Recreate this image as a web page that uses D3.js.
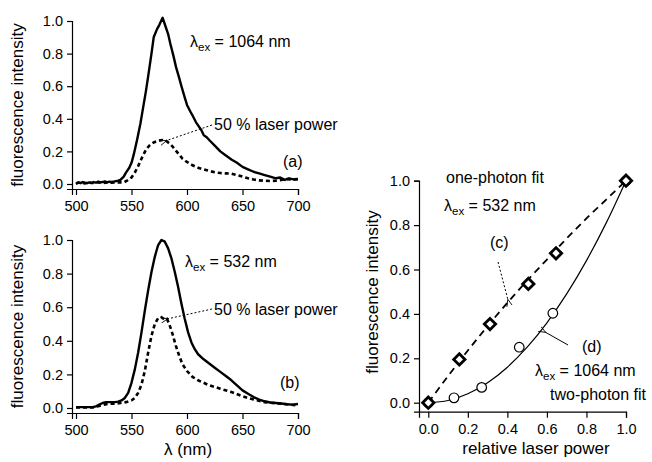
<!DOCTYPE html>
<html lang="en">
<head>
<meta charset="UTF-8" />
<title>fluorescence</title>
<script src="https://d3js.org/d3.v7.min.js"></script>
<style>
  body { margin: 0; background: #fff; }
  svg { display: block; font-family: "Liberation Sans", Arial, Helvetica, sans-serif; }
  .axis path, .axis line { stroke: #000; stroke-width: 1.2; }
  .axis text { font-size: 14.5px; fill: #000; font-family: "Liberation Sans", Arial, sans-serif; }
  .lbl { font-size: 17px; }
  .ann { font-size: 16px; }
</style>
</head>
<body>
<svg width="652" height="462"></svg>
<script>
// Data
// (a) excitation 1064 nm, full power
const aSolidWl = [500,502,504,506,508,510,512,514,516,518,520,522,524,526,528,530,532,534,536,538,540,543,545,548,550,552,555,558,560,563,565,568,570,573,575,578,580,583,585,588,590,593,595,598,600,603,605,608,610,613,615,618,620,625,630,635,640,645,650,655,660,665,670,675,680,684,688,692,696,700];
const aSolidVal = [0.0,0.01,0.005,0.012,0.008,0.005,0.01,0.006,0.012,0.008,0.015,0.01,0.012,0.016,0.01,0.014,0.012,0.015,0.018,0.02,0.025,0.045,0.07,0.1,0.13,0.18,0.27,0.37,0.45,0.57,0.66,0.8,0.9,0.95,0.975,1.02,0.98,0.92,0.86,0.78,0.72,0.65,0.6,0.53,0.485,0.445,0.42,0.38,0.36,0.33,0.3,0.285,0.27,0.235,0.2,0.175,0.15,0.13,0.105,0.09,0.075,0.065,0.055,0.045,0.035,0.04,0.025,0.035,0.028,0.03];
// (a) 50 % laser power
const aDashWl = [500,504,508,512,516,520,524,528,532,536,540,543,546,550,553,556,560,563,566,570,574,578,581,584,587,590,593,596,600,605,610,615,620,625,630,635,640,645,650,655,660,665,670,675,680,685,690,695,700];
const aDashVal = [0.005,0.01,0.004,0.008,0.006,0.01,0.006,0.01,0.008,0.01,0.01,0.01,0.02,0.04,0.07,0.11,0.17,0.21,0.235,0.255,0.265,0.27,0.265,0.25,0.23,0.205,0.18,0.155,0.135,0.115,0.1,0.09,0.08,0.072,0.067,0.065,0.063,0.055,0.045,0.035,0.028,0.022,0.02,0.018,0.02,0.025,0.03,0.028,0.03];
// (b) excitation 532 nm, full power
const bSolidWl = [500,510,515,518,521,524,527,530,535,538,541,544,547,550,553,556,559,562,565,568,571,574,577,580,583,586,589,592,595,598,601,604,607,610,615,620,625,630,635,640,645,650,655,660,665,670,675,680,685,690,695,700];
const bSolidVal = [0.005,0.005,0.005,0.01,0.02,0.03,0.035,0.035,0.035,0.038,0.045,0.06,0.09,0.15,0.23,0.33,0.45,0.58,0.7,0.81,0.9,0.97,1.0,0.99,0.95,0.89,0.81,0.72,0.62,0.53,0.45,0.39,0.35,0.32,0.29,0.265,0.24,0.215,0.19,0.165,0.135,0.105,0.085,0.065,0.05,0.04,0.033,0.03,0.027,0.022,0.02,0.024];
// (b) 50 % laser power
const bDashWl = [500,515,520,525,530,535,540,545,550,553,556,559,562,565,568,571,574,577,580,582,584,587,590,593,596,600,605,610,615,620,630,640,650,660,670,680,690,700];
const bDashVal = [0.003,0.003,0.01,0.02,0.025,0.025,0.03,0.035,0.045,0.06,0.09,0.14,0.22,0.33,0.43,0.5,0.535,0.54,0.525,0.53,0.5,0.44,0.37,0.31,0.26,0.22,0.185,0.165,0.15,0.135,0.115,0.095,0.07,0.05,0.035,0.028,0.022,0.015];

// (c) one-photon, 532 nm: measured points and fit
const cPower = [0, 0.157, 0.312, 0.506, 0.646, 1.0];
const cIntensity = [0, 0.195, 0.354, 0.535, 0.673, 1.0];
const cFitX = [0,0.1,0.2,0.3,0.4,0.5,0.6,0.7,0.8,0.9,1.0];
const cFitY = [0,0.12,0.235,0.345,0.45,0.55,0.645,0.74,0.83,0.915,1.0];
// (d) two-photon, 1064 nm: measured points and fit
const dPower = [0, 0.13, 0.27, 0.46, 0.63, 1.0];
const dIntensity = [0, 0.022, 0.069, 0.25, 0.403, 1.0];
const dFitX = [0,0.1,0.2,0.3,0.4,0.5,0.6,0.7,0.8,0.9,1.0];
const dFitY = [0,0.01,0.04,0.09,0.16,0.25,0.36,0.49,0.64,0.81,1.0];

const yTicks = [0, 0.2, 0.4, 0.6, 0.8, 1.0];
const wlTicks = [500, 550, 600, 650, 700];
const powTicks = [0, 0.2, 0.4, 0.6, 0.8, 1.0];

const svg = d3.select("svg");
const zip = (xs, ys) => xs.map((x, i) => [x, ys[i]]);

const defs = svg.append("defs");
defs.append("marker").attr("id", "arr").attr("viewBox", "0 0 10 10")
  .attr("refX", 1).attr("refY", 5).attr("markerWidth", 7).attr("markerHeight", 7)
  .attr("markerUnits", "userSpaceOnUse").attr("orient", "auto-start-reverse")
  .append("path").attr("d", "M10,1 L0,5 L10,9").attr("fill", "none").attr("stroke", "#000").attr("stroke-width", 1.2);

function sub(g, x, y, main, rest, cls) {
  const t = g.append("text").attr("class", cls || "ann").attr("x", x).attr("y", y);
  t.append("tspan").text(main);
  t.append("tspan").attr("font-size", "11.5px").attr("dy", 4).text("ex");
  t.append("tspan").attr("dy", -4).text(rest);
  return t;
}

// Spectrum panel
function spectrum(bottom, yTop, solid, dash) {
  const x = d3.scaleLinear().domain([500, 700]).range([76, 298]);
  const y = d3.scaleLinear().domain([0, 1]).range([bottom, yTop]);
  const axisY = bottom + 5;
  const xAxisScale = d3.scaleLinear().domain([x.invert(72), 700]).range([72, 298]);
  const yAxisScale = d3.scaleLinear().domain([y.invert(axisY), 1]).range([axisY, yTop]);

  svg.append("g").attr("class", "axis").attr("transform", `translate(0,${axisY})`)
    .call(d3.axisBottom(xAxisScale).tickValues(wlTicks).tickFormat(d3.format("d")).tickSizeOuter(0).tickSize(6).tickPadding(6));
  svg.append("g").attr("class", "axis").attr("transform", "translate(72,0)")
    .call(d3.axisLeft(yAxisScale).tickValues(yTicks).tickFormat(d3.format(".1f")).tickSizeOuter(0).tickSize(5).tickPadding(4));

  const line = d3.line().x(d => x(d[0])).y(d => y(d[1]));
  svg.append("path").datum(dash).attr("d", line).attr("fill", "none")
    .attr("stroke", "#000").attr("stroke-width", 2.6).attr("stroke-dasharray", "4,3");
  svg.append("path").datum(solid).attr("d", line).attr("fill", "none")
    .attr("stroke", "#000").attr("stroke-width", 2.4).attr("stroke-linejoin", "round");

  svg.append("text").attr("class", "lbl").attr("text-anchor", "middle")
    .attr("transform", `translate(23,${(yTop + axisY) / 2}) rotate(-90)`)
    .text("fluorescence intensity");
  return { x, y };
}

// (a)
const pa = spectrum(184, 21, zip(aSolidWl, aSolidVal), zip(aDashWl, aDashVal));
sub(svg, 190, 47, "λ", " = 1064 nm");
svg.append("text").attr("class", "ann").attr("x", 214).attr("y", 130).text("50 % laser power");
svg.append("line").attr("x1", 212).attr("y1", 125).attr("x2", pa.x(581)).attr("y2", pa.y(0.265))
  .attr("stroke", "#000").attr("stroke-width", 1).attr("stroke-dasharray", "2,2").attr("marker-end", "url(#arr)");
svg.append("text").attr("class", "ann").attr("x", 283).attr("y", 167).text("(a)");

// (b)
const pb = spectrum(408, 240, zip(bSolidWl, bSolidVal), zip(bDashWl, bDashVal));
sub(svg, 185, 267, "λ", " = 532 nm");
svg.append("text").attr("class", "ann").attr("x", 214).attr("y", 315).text("50 % laser power");
svg.append("line").attr("x1", 212).attr("y1", 309).attr("x2", pb.x(582)).attr("y2", pb.y(0.53))
  .attr("stroke", "#000").attr("stroke-width", 1).attr("stroke-dasharray", "2,2").attr("marker-end", "url(#arr)");
svg.append("text").attr("class", "ann").attr("x", 280).attr("y", 388).text("(b)");
svg.append("text").attr("class", "lbl").attr("text-anchor", "middle").attr("x", 188).attr("y", 455)
  .text("λ  (nm)");

// (c)/(d) power dependence
const px = d3.scaleLinear().domain([0, 1]).range([428.3, 626]);
const py = d3.scaleLinear().domain([0, 1]).range([402.7, 180.7]);
const pAxisY = 411.7, pAxisX = 419;
svg.append("g").attr("class", "axis").attr("transform", `translate(0,${pAxisY})`)
  .call(d3.axisBottom(d3.scaleLinear().domain([px.invert(pAxisX), 1]).range([pAxisX, 626]))
    .tickValues(powTicks).tickFormat(d3.format(".1f")).tickSizeOuter(0).tickSize(6).tickPadding(6));
svg.append("g").attr("class", "axis").attr("transform", `translate(${pAxisX},0)`)
  .call(d3.axisLeft(d3.scaleLinear().domain([py.invert(pAxisY), 1]).range([pAxisY, 180.7]))
    .tickValues(yTicks).tickFormat(d3.format(".1f")).tickSizeOuter(0).tickSize(5).tickPadding(4));

const pline = d3.line().x(d => px(d[0])).y(d => py(d[1])).curve(d3.curveMonotoneX);
svg.append("path").datum(zip(cFitX, cFitY)).attr("d", pline).attr("fill", "none")
  .attr("stroke", "#000").attr("stroke-width", 1.8).attr("stroke-dasharray", "7,5");
svg.append("path").datum(zip(dFitX, dFitY)).attr("d", pline).attr("fill", "none")
  .attr("stroke", "#000").attr("stroke-width", 1.2);

svg.selectAll(".circ").data(zip(dPower, dIntensity)).enter().append("circle").attr("class", "circ")
  .attr("cx", d => px(d[0])).attr("cy", d => py(d[1])).attr("r", 4.8)
  .attr("fill", "#fff").attr("stroke", "#000").attr("stroke-width", 1.2);
svg.selectAll(".diam").data(zip(cPower, cIntensity)).enter().append("path").attr("class", "diam")
  .attr("transform", d => `translate(${px(d[0])},${py(d[1])}) rotate(45)`)
  .attr("d", d3.symbol().type(d3.symbolSquare).size(64))
  .attr("fill", "#fff").attr("stroke", "#000").attr("stroke-width", 2.8);

svg.append("text").attr("class", "lbl").attr("text-anchor", "middle")
  .attr("transform", `translate(378,292) rotate(-90)`).text("fluorescence intensity");
svg.append("text").attr("class", "lbl").attr("text-anchor", "middle").attr("x", 536).attr("y", 454)
  .text("relative laser power");

svg.append("text").attr("class", "ann").attr("x", 446).attr("y", 183).text("one-photon fit");
sub(svg, 444, 211, "λ", " = 532 nm");
svg.append("text").attr("class", "ann").attr("x", 490).attr("y", 248).text("(c)");
svg.append("line").attr("x1", 498).attr("y1", 262).attr("x2", 508).attr("y2", 300)
  .attr("stroke", "#000").attr("stroke-width", 1).attr("stroke-dasharray", "2,2").attr("marker-end", "url(#arr)");
svg.append("text").attr("class", "ann").attr("x", 582).attr("y", 352).text("(d)");
svg.append("line").attr("x1", 568).attr("y1", 345).attr("x2", 545).attr("y2", 332)
  .attr("stroke", "#000").attr("stroke-width", 1).attr("marker-end", "url(#arr)");
sub(svg, 535, 376, "λ", " = 1064 nm");
svg.append("text").attr("class", "ann").attr("x", 550).attr("y", 400).text("two-photon fit");
</script>
</body>
</html>
